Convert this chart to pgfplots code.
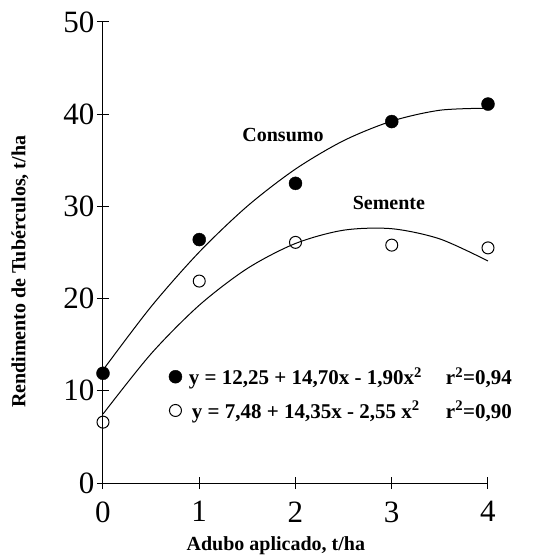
\documentclass[border=0pt]{standalone}
\usepackage{fontspec}
\setmainfont{Liberation Serif}
\usepackage{pgfplots}
\pgfplotsset{compat=1.18}

\begin{document}
\begin{tikzpicture}
  \begin{axis}[
    scale only axis,
    width=385pt, height=461pt,
    xmin=0, xmax=4,
    ymin=0, ymax=50,
    axis lines*=left,
    axis line style={line width=1pt},
    xtick={0,1,2,3,4},
    ytick={0,10,20,30,40,50},
    tick align=center,
    major tick length=12pt,
    tick style={black, line width=1pt},
    /pgf/number format/assume math mode=true,
    ticklabel style={font=\fontsize{31}{31}\selectfont},
    xticklabel style={yshift=-9pt},
    yticklabel style={xshift=1pt},
    xlabel={Adubo aplicado, t/ha},
    ylabel={Rendimento de Tubérculos, t/ha},
    label style={font=\bfseries\fontsize{20}{20}\selectfont},
    xlabel style={at={(axis description cs:0.449,0)}, anchor=base, inner sep=0pt, yshift=-67pt},
    ylabel style={at={(axis description cs:0,0.458)}, anchor=center, yshift=83pt},
    clip=false,
    legend style={draw=none, fill=none, at={(axis cs:0.652,13.0)}, anchor=north west,
      font=\bfseries\fontsize{21}{21}\selectfont, row sep=11pt},
    legend cell align=left,
    ]
    % curvas ajustadas
    \addplot[black, line width=1pt, smooth, forget plot] coordinates {
      (0,12.25)(0.5,19.13)(1,25.05)(1.5,30.03)(2,34.05)(2.5,37.13)(3,39.25)(3.5,40.43)(4,40.65)
    };
    \addplot[black, line width=1pt, smooth, forget plot] coordinates {
      (0,7.48)(0.5,14.02)(1,19.28)(1.5,23.27)(2,25.98)(2.5,27.42)(3,27.58)(3.5,26.47)(4,24.08)
    };
    % Consumo
    \addplot[only marks, mark=*, mark size=6.5pt, black] coordinates {
      (0,11.9)(1,26.4)(2,32.5)(3,39.2)(4,41.1)
    };
    \addlegendentry{\hspace{5pt}\makebox[257pt][l]{y = 12,25 + 14,70x - 1,90x\textsuperscript{2}}r\textsuperscript{2}=0,94}
    % Semente
    \addplot[only marks, mark=o, mark size=6pt, black, line width=1pt] coordinates {
      (0,6.6)(1,21.9)(2,26.1)(3,25.8)(4,25.5)
    };
    \addlegendentry{\hspace{8pt}\makebox[254pt][l]{y = 7,48 + 14,35x - 2,55 x\textsuperscript{2}}r\textsuperscript{2}=0,90}
    \node[font=\bfseries\fontsize{20}{20}\selectfont] at (axis cs:1.87,37.7) {Consumo};
    \node[font=\bfseries\fontsize{20}{20}\selectfont] at (axis cs:2.97,30.4) {Semente};
  \end{axis}
  \path (current axis.south west) ++(-103pt,-72pt) rectangle ++(538pt,555pt);
\end{tikzpicture}
\end{document}
